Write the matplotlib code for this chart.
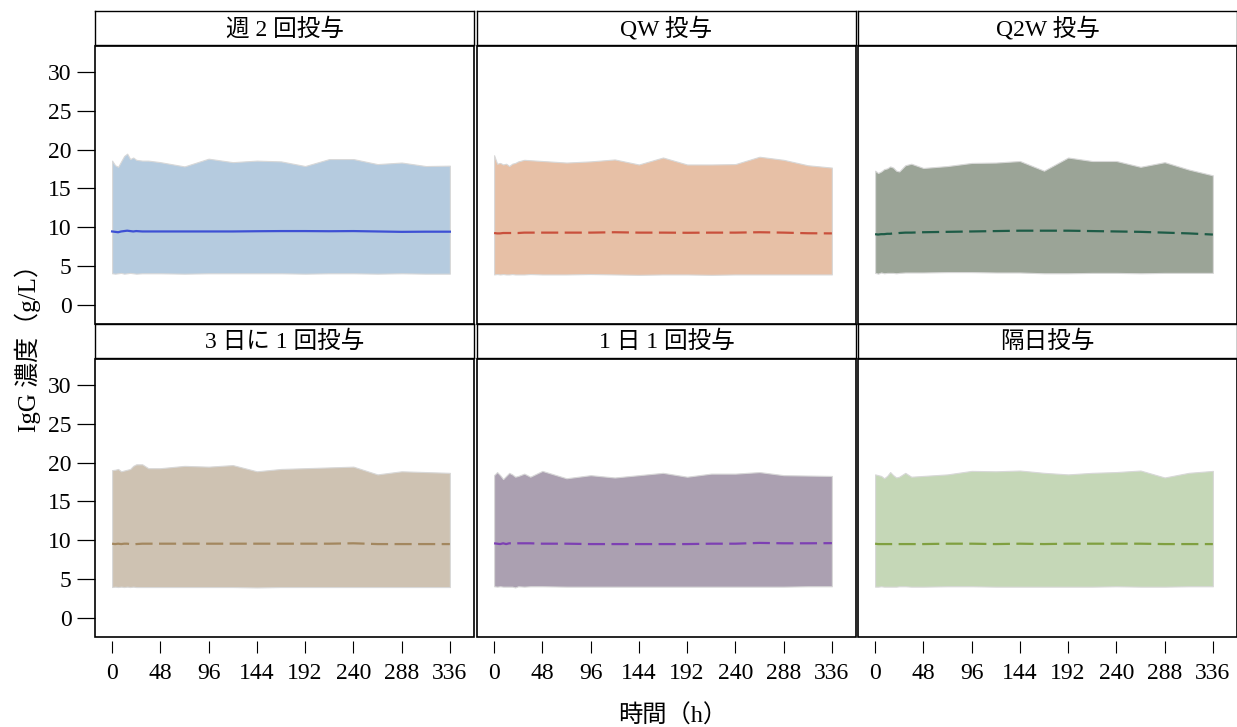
import numpy as np
import matplotlib
matplotlib.use("Agg")
import matplotlib.pyplot as plt
from matplotlib.patches import Rectangle

plt.rcParams['font.family'] = ['Liberation Serif', 'Noto Sans CJK JP']

# time grid (h)
hours = [0, 3, 6, 9, 12, 15, 18, 21, 24, 30, 36, 48, 72, 96, 120, 144, 168, 192, 216, 240, 264, 288, 312, 336]

panel_titles = ["週 2 回投与", "QW 投与", "Q2W 投与", "3 日に 1 回投与", "1 日 1 回投与", "隔日投与"]

upper_bw = [18.6, 18.0, 17.8, 18.5, 19.2, 19.5, 18.8, 19.0, 18.7, 18.6, 18.6, 18.4, 17.85, 18.85, 18.4, 18.6, 18.5, 17.9, 18.8, 18.8, 18.15, 18.35, 17.9, 17.95]
upper_qw = [19.3, 18.2, 18.3, 18.1, 18.2, 17.9, 18.2, 18.3, 18.5, 18.7, 18.65, 18.55, 18.35, 18.5, 18.75, 18.1, 19.0, 18.1, 18.1, 18.15, 19.1, 18.7, 18.0, 17.7]
upper_q2w = [17.3, 17.0, 17.2, 17.5, 17.6, 17.85, 17.7, 17.3, 17.2, 18.0, 18.2, 17.65, 17.9, 18.3, 18.35, 18.55, 17.3, 19.0, 18.55, 18.55, 17.8, 18.4, 17.45, 16.7]
upper_q3d = [19.05, 19.1, 19.2, 18.9, 19.0, 19.1, 19.2, 19.6, 19.8, 19.8, 19.3, 19.3, 19.6, 19.5, 19.7, 18.9, 19.2, 19.3, 19.4, 19.5, 18.5, 18.9, 18.8, 18.7]
upper_qd = [18.4, 18.8, 18.4, 17.9, 18.3, 18.7, 18.5, 18.2, 18.3, 18.6, 18.2, 18.95, 18.0, 18.4, 18.1, 18.4, 18.7, 18.2, 18.6, 18.6, 18.8, 18.4, 18.35, 18.3]
upper_qod = [18.5, 18.4, 18.3, 18.0, 18.3, 18.8, 18.4, 18.1, 18.2, 18.7, 18.2, 18.3, 18.5, 18.95, 18.9, 19.0, 18.7, 18.5, 18.7, 18.8, 19.0, 18.1, 18.7, 18.95]

lower_bw = [4.05, 4.0, 4.05, 4.1, 4.0, 4.05, 4.1, 4.05, 4.0, 4.05, 4.05, 4.05, 4.0, 4.05, 4.05, 4.05, 4.05, 4.0, 4.05, 4.05, 4.0, 4.05, 4.0, 4.0]
lower_qw = [3.9, 3.95, 3.9, 3.95, 3.9, 3.9, 3.95, 3.9, 3.9, 3.9, 3.95, 3.9, 3.9, 3.95, 3.9, 3.85, 3.9, 3.9, 3.85, 3.9, 3.9, 3.9, 3.9, 3.9]
lower_q2w = [4.1, 4.0, 4.15, 4.05, 4.1, 4.1, 4.1, 4.05, 4.1, 4.15, 4.15, 4.15, 4.2, 4.2, 4.15, 4.15, 4.05, 4.05, 4.1, 4.1, 4.05, 4.1, 4.1, 4.1]
lower_q3d = [3.95, 4.0, 3.95, 4.0, 3.95, 4.0, 3.95, 4.0, 3.95, 3.95, 3.95, 3.95, 3.95, 3.95, 3.95, 3.9, 3.95, 3.95, 3.95, 3.95, 3.95, 3.95, 3.95, 3.95]
lower_qd = [4.05, 4.0, 4.05, 4.0, 4.0, 4.0, 4.0, 3.9, 4.05, 4.0, 4.05, 4.05, 4.0, 4.0, 4.0, 4.0, 4.0, 4.0, 4.0, 4.0, 4.0, 4.0, 4.05, 4.05]
lower_qod = [4.0, 4.0, 4.05, 4.0, 4.0, 4.0, 4.0, 4.0, 4.05, 4.05, 4.0, 4.0, 4.05, 4.05, 4.0, 4.0, 4.0, 4.0, 4.0, 4.05, 4.0, 4.0, 4.05, 4.05]

median_bw = [9.45, 9.4, 9.35, 9.45, 9.5, 9.55, 9.5, 9.45, 9.5, 9.45, 9.45, 9.45, 9.45, 9.45, 9.45, 9.48, 9.5, 9.5, 9.48, 9.5, 9.45, 9.4, 9.42, 9.42]
median_qw = [9.25, 9.2, 9.2, 9.25, 9.25, 9.25, 9.25, 9.25, 9.25, 9.3, 9.3, 9.3, 9.3, 9.3, 9.35, 9.3, 9.3, 9.28, 9.3, 9.3, 9.35, 9.3, 9.22, 9.2]
median_q2w = [9.1, 9.05, 9.1, 9.1, 9.15, 9.15, 9.2, 9.2, 9.25, 9.3, 9.3, 9.35, 9.4, 9.45, 9.5, 9.55, 9.55, 9.55, 9.5, 9.45, 9.4, 9.3, 9.2, 9.05]
median_q3d = [9.55, 9.5, 9.55, 9.5, 9.55, 9.55, 9.5, 9.45, 9.5, 9.55, 9.55, 9.55, 9.55, 9.55, 9.55, 9.55, 9.55, 9.55, 9.55, 9.6, 9.5, 9.5, 9.5, 9.5]
median_qd = [9.6, 9.55, 9.5, 9.6, 9.5, 9.6, 9.6, 9.55, 9.6, 9.6, 9.6, 9.55, 9.55, 9.5, 9.5, 9.5, 9.5, 9.5, 9.55, 9.55, 9.65, 9.6, 9.6, 9.62]
median_qod = [9.55, 9.5, 9.5, 9.5, 9.5, 9.5, 9.5, 9.5, 9.5, 9.5, 9.5, 9.5, 9.55, 9.55, 9.5, 9.55, 9.5, 9.55, 9.55, 9.55, 9.55, 9.5, 9.5, 9.5]

uppers = [upper_bw, upper_qw, upper_q2w, upper_q3d, upper_qd, upper_qod]
lowers = [lower_bw, lower_qw, lower_q2w, lower_q3d, lower_qd, lower_qod]
medians = [median_bw, median_qw, median_q2w, median_q3d, median_qd, median_qod]

fill_colors = ["#b5cbdf", "#e7c0a6", "#9ba497", "#cec2b2", "#aba0b1", "#c5d7b7"]
line_colors = ["#3d50d4", "#c9503c", "#1e5c47", "#a3875f", "#7d40b3", "#80a040"]
line_styles = ["solid", "dashed", "dashed", "dashed", "dashed", "dashed"]

x_ticks = [0, 48, 96, 144, 192, 240, 288, 336]
y_ticks = [0, 5, 10, 15, 20, 25, 30]

W, H = 1237, 727
fig = plt.figure(figsize=(W / 100, H / 100), dpi=100)

col_lefts = [95, 477, 858]
col_width = 379
row_tops = [46, 359]
row_height = 278
strip_h = 34

for i in range(6):
    r, c = divmod(i, 3)
    left = col_lefts[c]
    top = row_tops[r]
    ax = fig.add_axes([left / W, 1 - (top + row_height) / H, col_width / W, row_height / H])
    t = np.array(hours)
    ax.fill_between(t, lowers[i], uppers[i], facecolor=fill_colors[i],
                    edgecolor="#d8d8d8", linewidth=0.8)
    ls = "solid" if line_styles[i] == "solid" else (0, (7.7, 2.9))
    ax.plot(t, medians[i], color=line_colors[i], lw=1.6, linestyle=ls)
    ax.set_xlim(-17, 360)
    ax.set_ylim(-2.5, 33.4)

    # panel frame drawn as a patch so x ticks can sit a little below it
    for s in ax.spines.values():
        s.set_visible(False)
    ax.add_patch(Rectangle((0, 0), 1, 1, transform=ax.transAxes, fill=False,
                           edgecolor="black", lw=1.2, clip_on=False, zorder=5))

    if r == 1:
        ax.spines['bottom'].set_visible(True)
        ax.spines['bottom'].set_color("none")
        ax.spines['bottom'].set_position(('outward', 3))
        ax.set_xticks(x_ticks)
        ax.set_xticklabels([str(v) for v in x_ticks])
        ax.tick_params(axis='x', length=8.5, width=0.8, pad=7, labelsize=17, color="black")
    else:
        ax.set_xticks([])
    if c == 0:
        ax.set_yticks(y_ticks)
        ax.set_yticklabels([str(v) for v in y_ticks])
        ax.tick_params(axis='y', length=13, width=0.9, pad=4, labelsize=17)
    else:
        ax.set_yticks([])

    # facet strip
    sax = fig.add_axes([left / W, 1 - (top - 1) / H, col_width / W, strip_h / H])
    sax.set_xticks([])
    sax.set_yticks([])
    for s in sax.spines.values():
        s.set_linewidth(1.0)
    sax.text(0.5, 0.47, panel_titles[i], ha="center", va="center", fontsize=17,
             transform=sax.transAxes)

fig.text(673 / W, 1 - 716 / H, "時間（h）", ha="center", va="center", fontsize=17.5)
fig.text(28 / W, 1 - 342 / H, "IgG 濃度（g/L）", ha="center", va="center", fontsize=18,
         rotation=90)

fig.savefig("out.png", dpi=100)
